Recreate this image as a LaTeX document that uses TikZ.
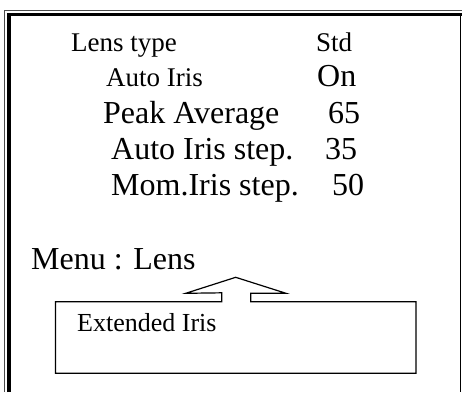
\documentclass[tikz,border=0pt]{standalone}
\usepackage{fontspec}
\setmainfont{Liberation Serif}
\usetikzlibrary{positioning}

\begin{document}
\begin{tikzpicture}[
    x=1pt, y=-1pt,
    small/.style={anchor=base west, inner sep=0pt, font=\fontsize{27}{27}\selectfont},
    big/.style={anchor=base west, inner sep=0pt, font=\fontsize{32}{32}\selectfont},
    boxarea/.style={rectangle, inner sep=0pt, minimum width=360pt, minimum height=71pt},
    outline/.style={line width=1.2pt, line join=miter}
]
    \useasboundingbox (0,0) rectangle (462,392);

    % screen frame
    \draw[line width=1pt, black!70] (4,392) -- (4,10.5) -- (462,10.5);
    \draw[line width=3.5pt] (9,392) -- (9,14.3) -- (462,14.3);
    \draw[line width=1.5pt] (460.5,16) -- (460.5,392);

    % menu items
    \node[small] (lens) at (71,51) {Lens type};
    \node[small] (std) at (316,51) {Std};
    \node[small] (auto) at (106,86) {Auto Iris};
    \node[big] (on) at (317,86) {On};
    \node[big] (peak) at (103,123) {Peak Average};
    \node[big] (peakval) at (328,123) {65};
    \node[big] (astep) at (111,159) {Auto Iris step.};
    \node[big] (astepval) at (325,159) {35};
    \node[big] (mstep) at (111,195) {Mom.Iris step.};
    \node[big] (mstepval) at (332,195) {50};
    \node[big] (menu) at (31,269) {Menu : Lens};

    % pop-up box with arrow
    \node[boxarea] (ext) at (235.7,337.5) {};
    \node[small, font=\fontsize{26}{26}\selectfont] (exttext) at (77,331.7) {Extended Iris};
    \draw[outline] (ext.north -| 221.7,0) -- ++(0,-9) -- (185.7,293.3)
        -- (235.7,277.3) -- (286,293.3) -- (250.7,293.3)
        -- (ext.north -| 250.7,0) -- (ext.north east) -- (ext.south east)
        -- (ext.south west) -- (ext.north west) -- cycle;
\end{tikzpicture}
\end{document}
